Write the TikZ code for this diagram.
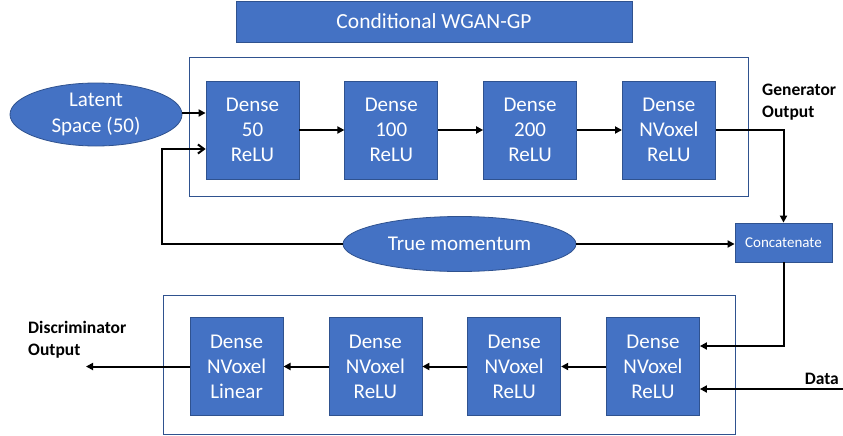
\documentclass[tikz,border=0pt]{standalone}
\usepackage{fontspec}
\setmainfont{Carlito}
\usetikzlibrary{positioning,shapes.geometric,arrows.meta}
\definecolor{boxblue}{HTML}{4472C4}
\definecolor{edgeblue}{HTML}{2F528F}

\begin{document}
\begin{tikzpicture}[x=1pt,y=-1pt,node distance=45pt,
	layer/.style={rectangle,draw=edgeblue,fill=boxblue,text=white,line width=0.8pt,minimum width=93pt,minimum height=98pt,align=center,font=\fontsize{21}{25}\selectfont,inner sep=0pt},
	blob/.style={ellipse,draw=edgeblue,fill=boxblue,text=white,line width=0.8pt,align=center,font=\fontsize{21}{26}\selectfont,inner sep=0pt},
	frame/.style={rectangle,draw=edgeblue,line width=0.8pt,inner sep=0pt},
	tag/.style={font=\fontsize{17.5}{22}\selectfont\bfseries,align=left,inner sep=0pt},
	flow/.style={-{Triangle[length=7pt,width=7pt]},line width=2pt}]

	\useasboundingbox (0,0) rectangle (843,436);

	\node[layer,minimum width=396pt,minimum height=41pt,font=\fontsize{21.5}{25}\selectfont] (title) at (434,21.5) {Conditional WGAN-GP};

	\node[frame,minimum width=559pt,minimum height=139pt] (genframe) at (468.5,126.5) {};
	\node[frame,minimum width=572pt,minimum height=139pt] (discframe) at (449,364.5) {};

	\node[blob,minimum width=172pt,minimum height=63pt] (latent) at (96,114.5) {Latent\\Space (50)};
	\node[layer] (g1) at (252.5,130) {Dense\\50\\ReLU};
	\node[layer] (g2) [right=of g1] {Dense\\100\\ReLU};
	\node[layer] (g3) [right=of g2] {Dense\\200\\ReLU};
	\node[layer] (g4) [right=of g3] {Dense\\NVoxel\\ReLU};
	\node[tag,anchor=north west] (genout) at (762,84) {Generator\\Output};

	\node[blob,minimum width=233pt,minimum height=55pt] (truth) at (459.5,244) {True momentum};
	\node[layer,minimum width=97pt,minimum height=39pt,font=\fontsize{15}{18}\selectfont] (concat) at (783.5,242.5) {Concatenate};
	\coordinate (bend) at (162,149);

	\node[layer] (d1) at (653,366.5) {Dense\\NVoxel\\ReLU};
	\node[layer] (d2) [left=of d1] {Dense\\NVoxel\\ReLU};
	\node[layer] (d3) [left=of d2] {Dense\\NVoxel\\ReLU};
	\node[layer] (d4) [left=of d3] {Dense\\NVoxel\\Linear};
	\node[tag,anchor=north west] (discout) at (28,321) {Discriminator\\Output};
	\node[tag,anchor=south east] (datatag) at (839,385) {Data};
	\coordinate (discend) at (86,366.5);
	\coordinate (datain) at (843,389);

	\draw[flow] (latent.east |- 0,113) -- (g1.west |- 0,113);
	\draw[flow] (g1) -- (g2);
	\draw[flow] (g2) -- (g3);
	\draw[flow] (g3) -- (g4);
	\draw[flow] (g4.east) -| (concat.north);
	\draw[-{Straight Barb[length=6pt,width=9pt]},line width=2pt] (truth.west) -| (bend) -- (bend -| g1.west);
	\draw[flow] (truth.east) -- (truth.east -| concat.west);
	\draw[flow] (concat.south) |- ([yshift=20.5pt]d1.east);
	\draw[flow] (datain) -- (datain -| d1.east);
	\draw[flow] (d1) -- (d2);
	\draw[flow] (d2) -- (d3);
	\draw[flow] (d3) -- (d4);
	\draw[flow] (d4.west) -- (discend);

\end{tikzpicture}
\end{document}
